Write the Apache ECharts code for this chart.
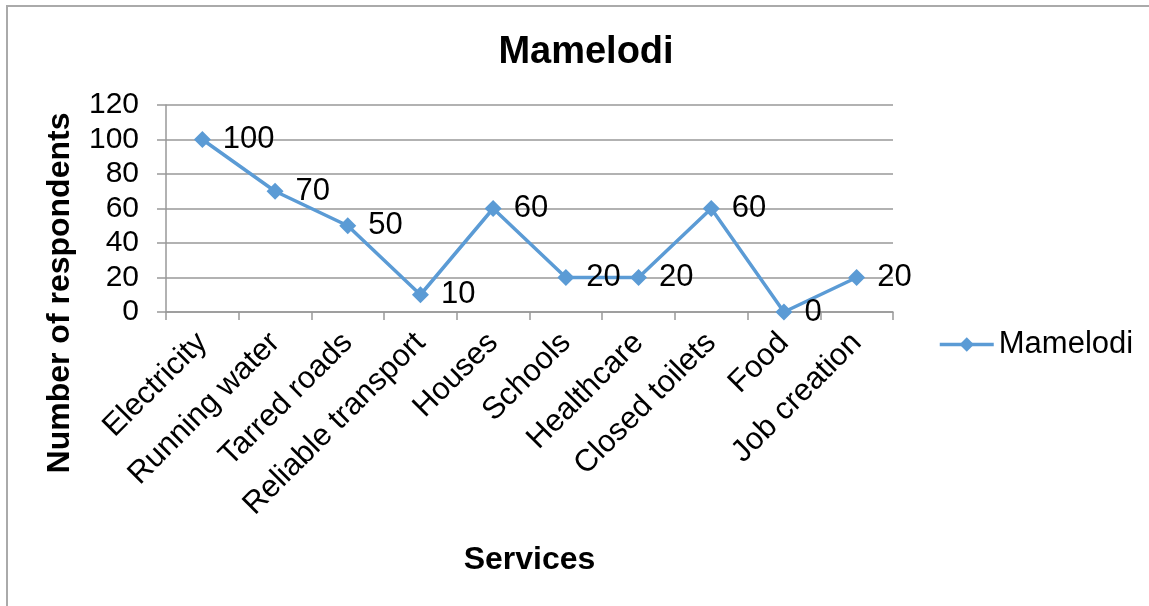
<!DOCTYPE html>
<html>
<head>
<meta charset="utf-8">
<script src="https://cdn.jsdelivr.net/npm/echarts@6/dist/echarts.min.js"></script>
<style>
  html, body { margin: 0; padding: 0; background: #fff; }
  #main { width: 1149px; height: 606px; }
</style>
</head>
<body>
<div id="main"></div>
<script>
// categories and values
const services = ['Electricity', 'Running water', 'Tarred roads', 'Reliable transport', 'Houses',
  'Schools', 'Healthcare', 'Closed toilets', 'Food', 'Job creation'];
const respondents = [100, 70, 50, 10, 60, 20, 20, 60, 0, 20];
const yTicks = [0, 20, 40, 60, 80, 100, 120];

const font = 'Liberation Sans, Arial, sans-serif';
const blue = '#5B9BD5';

function initOpt() {
  return {
    textStyle: { fontFamily: font },
    title: {
      text: 'Mamelodi',
      left: 581,
      textAlign: 'center',
      top: 29,
      textStyle: { fontSize: 38, fontWeight: 'bold', color: '#000', fontFamily: font }
    },
    legend: {
      data: ['Mamelodi'],
      left: 933,
      top: 324,
      itemWidth: 54,
      itemHeight: 18,
      itemGap: 6,
      lineStyle: { width: 3.5 },
      textStyle: { fontSize: 31, color: '#000', fontFamily: font }
    },
    grid: { left: 166, right: 256, top: 105, bottom: 294 },
    xAxis: {
      type: 'category',
      data: services,
      name: 'Services',
      nameLocation: 'middle',
      nameGap: 232,
      nameTextStyle: { fontSize: 32, fontWeight: 'bold', color: '#000', fontFamily: font },
      axisLine: { lineStyle: { color: '#999', width: 1.5 } },
      axisTick: { show: true, length: 8, lineStyle: { color: '#999', width: 1.5 } },
      axisLabel: { rotate: 45, fontSize: 31, color: '#000', margin: 26, interval: 0, fontFamily: font }
    },
    yAxis: {
      type: 'value',
      min: yTicks[0],
      max: yTicks[yTicks.length - 1],
      interval: 20,
      axisLine: { show: true, lineStyle: { color: '#999', width: 1.5 } },
      axisTick: { show: true, length: 9, lineStyle: { color: '#999', width: 1.5 } },
      axisLabel: { fontSize: 30, color: '#000', margin: 27, fontFamily: font },
      splitLine: { show: true, lineStyle: { color: '#999', width: 1.5 } }
    },
    graphic: [{
      type: 'rect',
      shape: { x: 7, y: 6, width: 2000, height: 2000 },
      style: { fill: 'none', stroke: '#aaa', lineWidth: 2 },
      silent: true
    }, {
      // y axis title sits lower than the plot's middle, as in the original
      type: 'text',
      x: 60,
      y: 293,
      rotation: Math.PI / 2,
      style: {
        text: 'Number of respondents',
        font: 'bold 32px ' + font,
        fill: '#000',
        align: 'center',
        verticalAlign: 'middle'
      },
      silent: true
    }],
    series: [{
      name: 'Mamelodi',
      type: 'line',
      data: respondents,
      symbol: 'diamond',
      symbolSize: 17,
      lineStyle: { color: blue, width: 3.5 },
      itemStyle: { color: blue },
      label: {
        show: true,
        position: 'right',
        distance: 12,
        fontSize: 31,
        color: '#000',
        fontFamily: font
      }
    }],
    animation: false
  };
}

const myChart = echarts.init(document.getElementById('main'));
myChart.setOption(initOpt());
</script>
</body>
</html>
